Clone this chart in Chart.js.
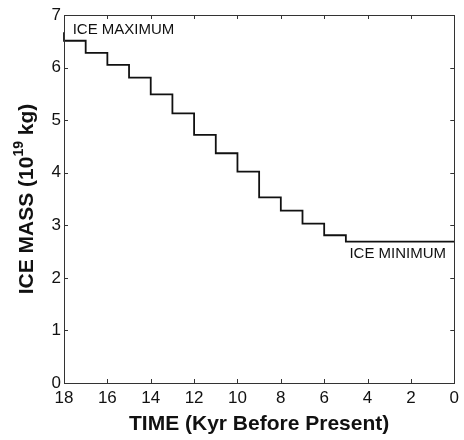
<!DOCTYPE html>
<html>
<head>
<meta charset="utf-8">
<script src="https://cdn.jsdelivr.net/npm/chart.js@4"></script>
<style>
  html, body { margin: 0; padding: 0; background: #fff; }
  #wrap { width: 464px; height: 440px; }
</style>
</head>
<body>
<div id="wrap"><canvas id="iceChart" width="464" height="440"></canvas></div>
<script>
// data (time in kyr before present, ice mass in 10^19 kg)
const timeKyr = [18, 18, 17, 16, 15, 14, 13, 12, 11, 10, 9, 8, 7, 6, 5, 0];
const iceMass = [6.67, 6.51, 6.28, 6.05, 5.81, 5.49, 5.13, 4.72, 4.37, 4.02, 3.53, 3.28, 3.03, 2.81, 2.69, 2.69];
const xTicks = [18, 16, 14, 12, 10, 8, 6, 4, 2, 0];
const yTicks = [0, 1, 2, 3, 4, 5, 6, 7];

const FONT = 'Liberation Sans, Arial, Helvetica, sans-serif';
const INK = '#111';

// box, inward ticks, labels and axis titles, matlab style
const decorations = {
	id: 'decorations',
	afterDraw(chart) {
		const { ctx, chartArea: a, scales } = chart;
		const x = scales.x, y = scales.y;
		ctx.save();
		ctx.strokeStyle = '#333';
		ctx.lineWidth = 1;
		ctx.strokeRect(Math.round(a.left) + 0.5, Math.round(a.top) + 0.5,
			Math.round(a.right - a.left), Math.round(a.bottom - a.top));

		const len = 4;
		ctx.beginPath();
		xTicks.forEach(t => {
			const px = Math.round(x.getPixelForValue(t)) + 0.5;
			ctx.moveTo(px, a.bottom); ctx.lineTo(px, a.bottom - len);
			ctx.moveTo(px, a.top); ctx.lineTo(px, a.top + len);
		});
		yTicks.forEach(t => {
			const py = Math.round(y.getPixelForValue(t)) + 0.5;
			ctx.moveTo(a.left, py); ctx.lineTo(a.left + len, py);
			ctx.moveTo(a.right, py); ctx.lineTo(a.right - len, py);
		});
		ctx.stroke();

		// annotations
		ctx.fillStyle = INK;
		ctx.font = '15px ' + FONT;
		ctx.textBaseline = 'alphabetic';
		ctx.textAlign = 'left';
		ctx.fillText('ICE MAXIMUM', x.getPixelForValue(17.6), y.getPixelForValue(6.63));
		ctx.textAlign = 'right';
		ctx.fillText('ICE MINIMUM', x.getPixelForValue(0.38), y.getPixelForValue(2.37));

		// x title
		ctx.font = 'bold 21px ' + FONT;
		ctx.textAlign = 'center';
		ctx.textBaseline = 'middle';
		ctx.fillText('TIME (Kyr Before Present)', (a.left + a.right) / 2, 424);

		// y title with superscript
		ctx.translate(27, (a.top + a.bottom) / 2);
		ctx.rotate(-Math.PI / 2);
		const big = 'bold 21px ' + FONT, small = 'bold 14px ' + FONT;
		const parts = [['ICE MASS (10', big, 0], ['19', small, -8], [' kg)', big, 0]];
		let total = 0;
		parts.forEach(p => { ctx.font = p[1]; total += ctx.measureText(p[0]).width; });
		let cx = -total / 2;
		ctx.textAlign = 'left';
		parts.forEach(p => {
			ctx.font = p[1];
			ctx.fillText(p[0], cx, p[2]);
			cx += ctx.measureText(p[0]).width;
		});
		ctx.restore();
	}
};

new Chart(document.getElementById('iceChart'), {
	type: 'line',
	data: {
		datasets: [{
			data: timeKyr.map((t, i) => ({ x: t, y: iceMass[i] })),
			borderColor: INK,
			borderWidth: 1.8,
			stepped: 'before',
			pointRadius: 0,
			fill: false,
			clip: 4
		}]
	},
	options: {
		responsive: false,
		animation: false,
		layout: { padding: { left: 0, right: 9, top: 15, bottom: 0 } },
		plugins: { legend: { display: false }, tooltip: { enabled: false } },
		scales: {
			x: {
				type: 'linear',
				reverse: true,
				min: 0,
				max: 18,
				afterBuildTicks: s => { s.ticks = xTicks.map(v => ({ value: v })); },
				afterFit: s => { s.height = 57; },
				grid: { display: false, drawTicks: false },
				border: { display: false },
				ticks: { color: INK, padding: 5, maxRotation: 0, autoSkip: false, font: { size: 17, family: FONT } }
			},
			y: {
				min: 0,
				max: 7,
				afterBuildTicks: s => { s.ticks = yTicks.map(v => ({ value: v })); },
				afterFit: s => { s.width = 64; },
				grid: { display: false, drawTicks: false },
				border: { display: false },
				ticks: { color: INK, padding: 3, font: { size: 17, family: FONT } }
			}
		}
	},
	plugins: [decorations]
});
</script>
</body>
</html>
